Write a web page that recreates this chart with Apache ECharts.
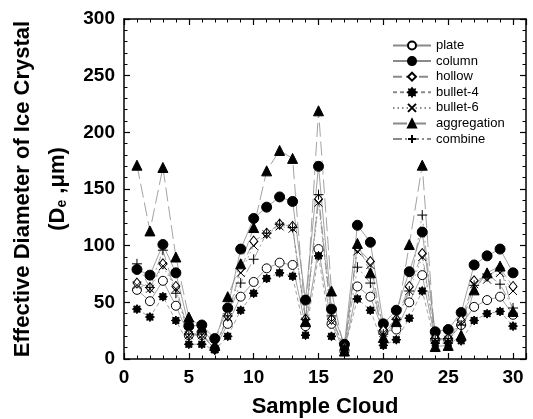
<!DOCTYPE html>
<html><head><meta charset="utf-8">
<script src="https://cdn.jsdelivr.net/npm/echarts@6/dist/echarts.min.js"></script>
<style>html,body{margin:0;padding:0;background:#fff}#c{width:533px;height:419px}</style>
</head><body><div id="c"></div>
<script>
const samples = [1,2,3,4,5,6,7,8,9,10,11,12,13,14,15,16,17,18,19,20,21,22,23,24,25,26,27,28,29,30];
const plate       = [61,51,69,47,21,21,9,31,55,68,80,85,83,29,97,31,7,64,55,24,26,50,74,17,17,30,46,52,55,39];
const column      = [79,74,101,76,29,30,18,45,97,124,134,143,139,52,170,44,13,118,103,31,43,77,112,24,26,41,83,91,97,76];
const hollow      = [67,63,84,64,22,22,10,38,80,104,111,119,117,35,141,35,10,98,86,25,35,64,93,18,18,34,69,73,80,64];
const bullet4     = [44,37,55,34,13,13,8,20,43,58,71,76,73,21,91,20,9,53,43,12,17,36,60,14,14,16,34,40,42,29];
const bullet6     = [65,62,82,62,21,21,9,37,76,100,110,117,115,33,138,33,9,95,83,23,33,60,90,17,17,32,66,70,76,60];
const aggregation = [171,113,169,90,37,28,12,55,84,116,166,184,177,33,219,60,7,102,76,19,33,101,171,11,12,21,61,76,82,42];
const combine     = [84,63,96,58,22,22,8,38,67,88,111,119,116,35,145,38,8,81,67,22,35,60,127,18,18,30,65,75,66,45];
const seriesNames = ['plate','column','hollow','bullet-4','bullet-6','aggregation','combine'];
const yTicks = [0,50,100,150,200,250,300];
const xTicks = [0,5,10,15,20,25,30];

function starPath(){
  let p='path://';
  for(let i=0;i<16;i++){
    const a=i*Math.PI/8, r=(i%2===0)?5:3.3;
    p+=(i===0?'M':'L')+(5+r*Math.cos(a)).toFixed(2)+','+(5+r*Math.sin(a)).toFixed(2)+' ';
  }
  return p+'Z';
}
const xPath='path://M0,0 L10,10 M10,0 L0,10';
const plusPath='path://M5,0 L5,10 M0,5 L10,5';

const chart = echarts.init(document.getElementById('c'), null, {renderer:'canvas'});
const lineColor='#8a8a8a';
function mk(name, vals, symbol, size, fill, dash, extra){
  return Object.assign({
    name, type:'line', data: samples.map((s,i)=>[s, vals[i]]),
    symbol, symbolSize:size, showSymbol:true,
    itemStyle:{color:fill, borderColor:'#000', borderWidth:1},
    lineStyle:{color:lineColor, width:0.8, type:dash},
    emphasis:{disabled:true}, animation:false
  }, extra||{});
}
const series=[
  mk('plate', plate, 'circle', 9, '#fff', 'solid'),
  mk('column', column, 'circle', 10, '#000', 'solid'),
  mk('hollow', hollow, 'diamond', [8,10], '#fff', [9,4]),
  mk('bullet-4', bullet4, starPath(), 9, '#000', [4,3]),
  mk('bullet-6', bullet6, xPath, 8, 'none', [1.5,3]),
  mk('aggregation', aggregation, 'triangle', 10, '#000', [14,5]),
  mk('combine', combine, plusPath, 10, 'none', [9,3,2,3])
];
const axisFont={fontFamily:'Liberation Sans, Arial, sans-serif', fontWeight:'bold', fontSize:19, color:'#000'};
const axisLine={show:true, onZero:false, lineStyle:{color:'#000', width:1.5}};
chart.setOption({
  animation:false,
  backgroundColor:'#fff',
  grid:{left:124, right:7, top:19, bottom:60, containLabel:false, outerBoundsMode:'none'},
  legend:{
    orient:'vertical', left:392, top:39, padding:0, itemWidth:38, itemHeight:10, itemGap:2.6,
    data:seriesNames, selectedMode:false,
    textStyle:{fontFamily:'Liberation Sans, Arial, sans-serif', fontSize:13, color:'#000'}
  },
  xAxis:[{
    type:'value', min:0, max:31, interval:5,
    axisLine, axisTick:{show:true, inside:true, length:6, lineStyle:{color:'#000', width:1.2}},
    minorTick:{show:true, splitNumber:5, length:3.5, lineStyle:{color:'#000', width:1}},
    splitLine:{show:false},
    axisLabel:Object.assign({margin:9, customValues:xTicks, formatter:v=>String(v)}, axisFont),
    name:'Sample Cloud', nameLocation:'middle', nameGap:37,
    nameTextStyle:{fontFamily:'Liberation Sans, Arial, sans-serif', fontWeight:'bold', fontSize:22, color:'#000'}
  },{
    type:'value', position:'top', min:0, max:31, interval:5,
    axisLine, axisTick:{show:true, inside:true, length:6, lineStyle:{color:'#000', width:1.2}},
    minorTick:{show:true, splitNumber:5, length:3.5, lineStyle:{color:'#000', width:1}},
    splitLine:{show:false}, axisLabel:{show:false}
  }],
  yAxis:[{
    type:'value', min:0, max:300, interval:50,
    axisLine, axisTick:{show:true, inside:true, length:6, lineStyle:{color:'#000', width:1.2}},
    minorTick:{show:true, splitNumber:5, length:3.5, lineStyle:{color:'#000', width:1}},
    splitLine:{show:false},
    axisLabel:Object.assign({margin:9, formatter:v=>String(v)}, axisFont),
    name:'{a|Effective Diameter of Ice Crystal}\n{a|(D}{s|e}{a| ,\u03bcm)}',
    nameLocation:'middle', nameRotate:90, nameGap:49,
    nameTextStyle:{
      rich:{
        a:{fontFamily:'Liberation Sans, Arial, sans-serif', fontWeight:'bold', fontSize:22, color:'#000', lineHeight:35},
        s:{fontFamily:'Liberation Sans, Arial, sans-serif', fontWeight:'bold', fontSize:14, color:'#000', lineHeight:35, padding:[10,0,0,0]}
      }
    }
  },{
    type:'value', position:'right', min:0, max:300, interval:50,
    axisLine, axisTick:{show:true, inside:true, length:6, lineStyle:{color:'#000', width:1.2}},
    minorTick:{show:true, splitNumber:5, length:3.5, lineStyle:{color:'#000', width:1}},
    splitLine:{show:false}, axisLabel:{show:false}
  }],
  series
});
</script></body></html>
